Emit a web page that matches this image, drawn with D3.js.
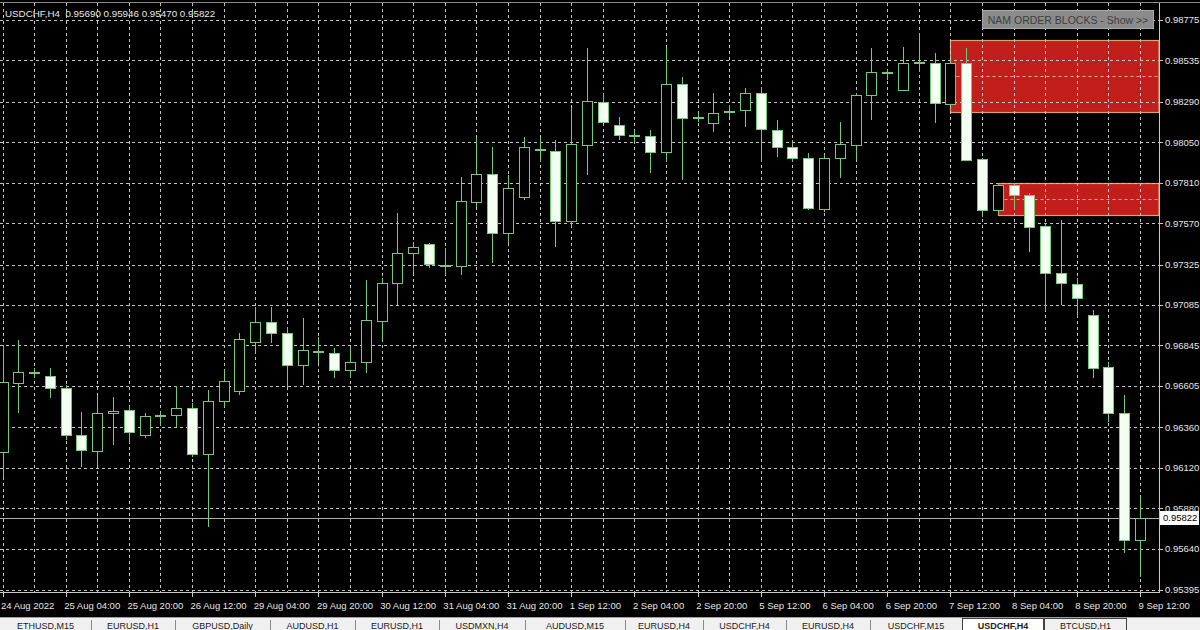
<!DOCTYPE html>
<html><head><meta charset="utf-8">
<script src="https://cdn.jsdelivr.net/npm/d3@7"></script>
<style>html,body{margin:0;padding:0;background:#000;overflow:hidden}svg{display:block}</style>
</head><body><svg id="c" width="1200" height="630"></svg>
<script>
// ---------- DATA ----------
const symbolTitle = "USDCHF,H4  0.95690 0.95946 0.95470 0.95822";
const dateLabels = ["24 Aug 2022","25 Aug 04:00","25 Aug 20:00","26 Aug 12:00","29 Aug 04:00","29 Aug 20:00","30 Aug 12:00","31 Aug 04:00","31 Aug 20:00","1 Sep 12:00","2 Sep 04:00","2 Sep 20:00","5 Sep 12:00","6 Sep 04:00","6 Sep 20:00","7 Sep 12:00","8 Sep 04:00","8 Sep 20:00","9 Sep 12:00"];
const barsPerLabel = 4;
const priceTicks = [0.98775,0.98535,0.98290,0.98050,0.97810,0.97570,0.97325,0.97085,0.96845,0.96605,0.96360,0.96120,0.95880,0.95640,0.95395];
const openP = [
0.96213,0.96622,0.96682,0.96664,0.96593,0.96314,0.96219,0.96445,0.96462,0.96314,
0.96427,0.96433,0.96474,0.96201,0.96516,0.96575,0.96866,0.96984,0.96919,0.96729,
0.96812,0.96800,0.96699,0.96747,0.96990,0.97215,0.97393,0.97447,0.97322,0.97316,
0.97696,0.97862,0.97512,0.97725,0.98010,0.97998,0.97583,0.98034,0.98289,0.98152,
0.98093,0.98087,0.97992,0.98395,0.98197,0.98164,0.98235,0.98241,0.98342,0.98123,
0.98022,0.97957,0.97654,0.97957,0.98034,0.98330,0.98461,0.98360,0.98520,0.98520,
0.98277,0.98520,0.97951,0.97648,0.97797,0.97737,0.97553,0.97275,0.97209,0.97026,
0.96717,0.96445,0.95690];
const highP = [
0.96848,0.96877,0.96711,0.96711,0.96611,0.96450,0.96545,0.96539,0.96492,0.96445,
0.96450,0.96605,0.96504,0.96581,0.96699,0.96919,0.97073,0.97073,0.96954,0.97008,
0.96895,0.96830,0.96836,0.97233,0.97245,0.97631,0.97459,0.97453,0.97423,0.97844,
0.98075,0.98022,0.97856,0.98081,0.98075,0.98063,0.98253,0.98609,0.98342,0.98200,
0.98123,0.98123,0.98609,0.98437,0.98224,0.98342,0.98271,0.98372,0.98378,0.98182,
0.98063,0.97986,0.97974,0.98170,0.98342,0.98609,0.98478,0.98615,0.98698,0.98579,
0.98526,0.98609,0.97957,0.97808,0.97808,0.97749,0.97571,0.97589,0.97245,0.97055,
0.96747,0.96551,0.95946];
const lowP = [
0.96059,0.96445,0.96652,0.96533,0.96284,0.96124,0.96136,0.96255,0.96267,0.96296,
0.96373,0.96361,0.96184,0.95768,0.96480,0.96551,0.96800,0.96860,0.96599,0.96611,
0.96741,0.96652,0.96652,0.96682,0.96877,0.97085,0.97275,0.97304,0.97263,0.97263,
0.97666,0.97334,0.97453,0.97708,0.97933,0.97429,0.97553,0.97856,0.98164,0.98063,
0.98052,0.97868,0.97933,0.97826,0.98170,0.98111,0.98200,0.98140,0.97933,0.97963,
0.97933,0.97648,0.97636,0.97838,0.97945,0.98182,0.98419,0.98355,0.98467,0.98164,
0.98265,0.97940,0.97607,0.97636,0.97648,0.97399,0.97055,0.97085,0.97014,0.96652,
0.96391,0.95614,0.95470];
const closeP = [
0.96628,0.96688,0.96685,0.96593,0.96314,0.96225,0.96445,0.96456,0.96332,0.96427,
0.96430,0.96474,0.96201,0.96516,0.96634,0.96883,0.96984,0.96919,0.96729,0.96818,
0.96815,0.96699,0.96747,0.96996,0.97215,0.97393,0.97429,0.97328,0.97325,0.97702,
0.97862,0.97512,0.97779,0.98022,0.98013,0.97583,0.98040,0.98295,0.98170,0.98093,
0.98090,0.97992,0.98395,0.98194,0.98200,0.98224,0.98238,0.98342,0.98129,0.98022,
0.97957,0.97660,0.97957,0.98040,0.98330,0.98467,0.98464,0.98520,0.98523,0.98283,
0.98520,0.97945,0.97648,0.97797,0.97737,0.97547,0.97275,0.97215,0.97126,0.96711,
0.96445,0.95690,0.95822];
const lastPrice = 0.95822;
const blockStartBar = [60, 63];
const blockTop = [0.98656, 0.97808];
const blockBottom = [0.98229, 0.97619];
const buttonText = "NAM ORDER BLOCKS - Show >>";
const tabNames = ["ETHUSD,M15","EURUSD,H1","GBPUSD,Daily","AUDUSD,H1","EURUSD,H1","USDMXN,H4","AUDUSD,M15","EURUSD,H4","USDCHF,H4","EURUSD,H4","USDCHF,M15","USDCHF,H4","BTCUSD,H1"];
const activeTab = 11;

// ---------- LAYOUT ----------
const W = 1200, H = 630;
const plotL = 0, plotR = 1159, plotT = 3, plotB = 592;
const nBars = openP.length;
const x = d3.scaleLinear().domain([0, nBars - 1]).range([2.5, 1140]);
const y = d3.scaleLinear().domain([priceTicks[priceTicks.length-1], priceTicks[0]]).range([590, 20]);
const FONT = "'Liberation Sans', Arial, sans-serif";
const GREEN = "#79c879";
const GRID = "#c4c4c4";
const crisp = v => Math.round(v) + 0.5;

const svg = d3.select("#c");
svg.append("rect").attr("width", W).attr("height", H).attr("fill", "#000");

// order blocks (background objects)
const blocks = blockStartBar.map((b, i) => ({b, top: blockTop[i], bot: blockBottom[i]}));
const gB = svg.append("g");
gB.selectAll("rect").data(blocks).join("rect")
  .attr("x", d => crisp(x(d.b)))
  .attr("y", d => crisp(y(d.top)))
  .attr("width", d => plotR - crisp(x(d.b)))
  .attr("height", d => Math.round(y(d.bot)) - Math.round(y(d.top)))
  .attr("fill", "#c21e1c")
  .attr("stroke", "#d8a46a").attr("stroke-width", 1.2);

// grid
const gG = svg.append("g").attr("stroke", GRID).attr("stroke-width", 1).attr("stroke-dasharray", "3,3");
gG.selectAll("line.h").data(priceTicks).join("line").attr("class", "h")
  .attr("x1", plotL).attr("x2", plotR).attr("y1", d => crisp(y(d))).attr("y2", d => crisp(y(d)));
const evenBars = d3.range(0, nBars, 2);
gG.selectAll("line.v").data(evenBars).join("line").attr("class", "v")
  .attr("x1", d => crisp(x(d))).attr("x2", d => crisp(x(d))).attr("y1", plotT).attr("y2", plotB);

// block midlines
svg.append("g").selectAll("line").data(blocks).join("line")
  .attr("x1", d => crisp(x(d.b))).attr("x2", plotR)
  .attr("y1", d => crisp(y((d.top + d.bot) / 2))).attr("y2", d => crisp(y((d.top + d.bot) / 2)))
  .attr("stroke", "#f0a0a0").attr("stroke-dasharray", "3,3");

// current price line
svg.append("line").attr("x1", plotL).attr("x2", plotR)
  .attr("y1", crisp(y(lastPrice))).attr("y2", crisp(y(lastPrice)))
  .attr("stroke", "#b0b0b0").attr("stroke-width", 1);

// candles
const bars = d3.range(nBars).map(i => ({i, o: openP[i], h: highP[i], l: lowP[i], c: closeP[i]}));
const gC = svg.append("g");
gC.selectAll("line").data(bars).join("line")
  .attr("x1", d => crisp(x(d.i))).attr("x2", d => crisp(x(d.i)))
  .attr("y1", d => Math.round(y(d.h))).attr("y2", d => Math.round(y(d.l)))
  .attr("stroke", GREEN).attr("stroke-width", 1);
gC.selectAll("rect").data(bars).join("rect")
  .attr("x", d => crisp(x(d.i)) - 5)
  .attr("y", d => crisp(y(Math.max(d.o, d.c))))
  .attr("width", 10)
  .attr("height", d => Math.max(1, Math.round(y(Math.min(d.o, d.c))) - Math.round(y(Math.max(d.o, d.c)))))
  .attr("fill", d => d.c >= d.o ? "#000" : "#f3fff0")
  .attr("stroke", GREEN).attr("stroke-width", 1);

// frame / axes
svg.append("line").attr("x1", 0).attr("x2", W).attr("y1", 2.5).attr("y2", 2.5).attr("stroke", "#8a8a8a");
svg.append("line").attr("x1", plotR + 0.5).attr("x2", plotR + 0.5).attr("y1", plotT).attr("y2", plotB + 1).attr("stroke", "#c8c8c8");
svg.append("line").attr("x1", 0).attr("x2", plotR + 1).attr("y1", plotB + 0.5).attr("y2", plotB + 0.5).attr("stroke", "#c8c8c8");

// price axis
const gY = svg.append("g");
gY.selectAll("line").data(priceTicks).join("line")
  .attr("x1", plotR + 1).attr("x2", plotR + 4).attr("y1", d => crisp(y(d))).attr("y2", d => crisp(y(d)))
  .attr("stroke", "#c8c8c8");
gY.selectAll("text").data(priceTicks).join("text")
  .attr("x", 1165).attr("y", d => y(d)).attr("dy", "0.35em")
  .attr("fill", "#e6e6e6").attr("font-family", FONT).attr("font-size", "9.5px")
  .text(d => d.toFixed(5));

// last price label
const lpY = y(lastPrice);
svg.append("rect").attr("x", 1160).attr("y", Math.round(lpY) - 7).attr("width", 39).attr("height", 14).attr("fill", "#fff");
svg.append("text").attr("x", 1163).attr("y", lpY).attr("dy", "0.35em").attr("fill", "#000")
  .attr("font-family", FONT).attr("font-size", "9.5px").text(lastPrice.toFixed(5));

// time axis
const gX = svg.append("g");
gX.selectAll("line").data(dateLabels).join("line")
  .attr("x1", (d, k) => crisp(x(k * barsPerLabel))).attr("x2", (d, k) => crisp(x(k * barsPerLabel)))
  .attr("y1", plotB + 1).attr("y2", plotB + 5).attr("stroke", "#c8c8c8");
gX.selectAll("text").data(dateLabels).join("text")
  .attr("x", (d, k) => Math.max(1, x(k * barsPerLabel) - 1.5)).attr("y", 609)
  .attr("fill", "#e6e6e6").attr("font-family", FONT).attr("font-size", "9.5px")
  .text(d => d);

// title
svg.append("text").attr("x", 5).attr("y", 17).attr("fill", "#e8e8e8")
  .attr("font-family", FONT).attr("font-size", "9.8px").attr("xml:space", "preserve")
  .text(symbolTitle);

// button
svg.append("rect").attr("x", 982.5).attr("y", 10.5).attr("width", 171).attr("height", 18)
  .attr("fill", "#8b8b8b").attr("stroke", "#a9a9a9");
svg.append("text").attr("x", 1068).attr("y", 20).attr("dy", "0.36em").attr("text-anchor", "middle")
  .attr("fill", "#3e3e3e").attr("font-family", FONT).attr("font-size", "10.5px").text(buttonText);

// tab bar
svg.append("rect").attr("x", 0).attr("y", 617).attr("width", W).attr("height", 13).attr("fill", "#f0f0f0");
svg.append("line").attr("x1", 0).attr("x2", W).attr("y1", 617.5).attr("y2", 617.5).attr("stroke", "#a0a0a0");
const tabEdges = [0, 91, 175, 270, 355, 439, 525, 625, 703, 786, 870, 962, 1044, 1127];
const tabs = tabNames.map((n, i) => ({n, i, x0: tabEdges[i], x1: tabEdges[i + 1]}));
const gT = svg.append("g");
gT.selectAll("rect").data(tabs.filter(t => t.i >= activeTab)).join("rect")
  .attr("x", t => t.x0 + 0.5).attr("y", 618.5).attr("width", t => t.x1 - t.x0 - 1).attr("height", 14)
  .attr("fill", t => t.i === activeTab ? "#ffffff" : "#f0f0f0").attr("stroke", "#404040");
gT.selectAll("line").data(tabs.filter(t => t.i < activeTab - 1)).join("line")
  .attr("x1", t => t.x1 + 0.5).attr("x2", t => t.x1 + 0.5).attr("y1", 620).attr("y2", 630).attr("stroke", "#8a8a8a");
gT.selectAll("text").data(tabs).join("text")
  .attr("x", t => (t.x0 + t.x1) / 2).attr("y", 628.5).attr("text-anchor", "middle")
  .attr("fill", "#222").attr("font-family", FONT).attr("font-size", "9px")
  .attr("font-weight", t => t.i === activeTab ? "bold" : "normal")
  .text(t => t.n);
</script>
</body></html>
